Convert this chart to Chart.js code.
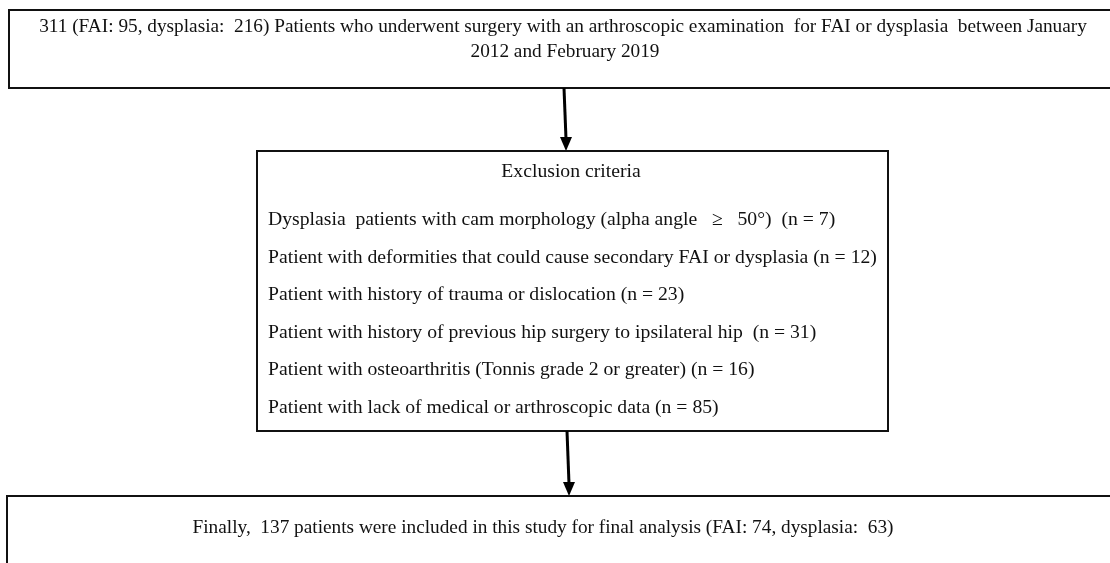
<!DOCTYPE html>
<html>
<head>
<meta charset="utf-8">
<script src="https://cdn.jsdelivr.net/npm/chart.js@4"></script>
<style>
  html, body { margin: 0; padding: 0; background: #fff; }
  #flow { display: block; }
</style>
</head>
<body>
<canvas id="flow" width="1110" height="563"></canvas>
<script>
// Data for the flow chart
const totalPatients = 311;
const totalGroups = ['FAI', 'dysplasia'];
const totalCounts = [95, 216];
const exclusionReasons = [
    'Dysplasia  patients with cam morphology (alpha angle   \u2265   50\u00B0)  (n = ',
    'Patient with deformities that could cause secondary FAI or dysplasia (n = ',
    'Patient with history of trauma or dislocation (n = ',
    'Patient with history of previous hip surgery to ipsilateral hip  (n = ',
    'Patient with osteoarthritis (Tonnis grade 2 or greater) (n = ',
    'Patient with lack of medical or arthroscopic data (n = '
];
const exclusionCounts = [7, 12, 23, 31, 16, 85];
const finalPatients = 137;
const finalCounts = [74, 63];

const FONT_OUTER = '19.3px "Liberation Serif", "Times New Roman", serif';
const FONT_MID = '19.7px "Liberation Serif", "Times New Roman", serif';
const INK = '#111';

function box(ctx, x, y, w, h) {
    ctx.save();
    ctx.strokeStyle = INK;
    ctx.lineWidth = 2;
    ctx.strokeRect(x, y, w, h);
    ctx.restore();
}

function arrow(ctx, x1, y1, x2, y2) {
    ctx.save();
    ctx.strokeStyle = '#000';
    ctx.fillStyle = '#000';
    ctx.lineWidth = 3;
    ctx.beginPath();
    ctx.moveTo(x1, y1);
    ctx.lineTo(x2, y2 - 12);
    ctx.stroke();
    // kepala panah
    ctx.beginPath();
    ctx.moveTo(x2 - 6, y2 - 14);
    ctx.lineTo(x2 + 6, y2 - 14);
    ctx.lineTo(x2, y2);
    ctx.closePath();
    ctx.fill();
    ctx.restore();
}

const flowPlugin = {
    id: 'flowPlugin',
    afterDraw(chart) {
        const ctx = chart.ctx;
        ctx.save();
        ctx.fillStyle = '#fff';
        ctx.fillRect(0, 0, chart.width, chart.height);
        ctx.fillStyle = INK;
        ctx.textBaseline = 'middle';

        // kotak atas
        box(ctx, 9, 10, 1110, 78);
        ctx.font = FONT_OUTER;
        ctx.textAlign = 'center';
        const top1 = totalPatients + ' (' + totalGroups[0] + ': ' + totalCounts[0] + ', ' +
            totalGroups[1] + ':  ' + totalCounts[1] +
            ') Patients who underwent surgery with an arthroscopic examination  for FAI or dysplasia  between January';
        ctx.fillText(top1, 563, 27);
        ctx.fillText('2012 and February 2019', 565, 52);

        arrow(ctx, 564, 88, 566, 151);

        // kotak kriteria eksklusi
        box(ctx, 257, 151, 631, 280);
        ctx.font = FONT_MID;
        ctx.fillText('Exclusion criteria', 571, 172);
        ctx.textAlign = 'left';
        exclusionReasons.forEach((r, i) => {
            ctx.fillText(r + exclusionCounts[i] + ')', 268, 220 + i * 37.5);
        });

        arrow(ctx, 567, 431, 569, 496);

        // kotak bawah
        box(ctx, 7, 496, 1110, 80);
        ctx.font = FONT_OUTER;
        ctx.textAlign = 'center';
        const fin = 'Finally,  ' + finalPatients + ' patients were included in this study for final analysis (' +
            totalGroups[0] + ': ' + finalCounts[0] + ', ' + totalGroups[1] + ':  ' + finalCounts[1] + ')';
        ctx.fillText(fin, 543, 528);
        ctx.restore();
    }
};

new Chart(document.getElementById('flow'), {
    type: 'scatter',
    data: { datasets: [{ data: [] }] },
    options: {
        responsive: false,
        animation: false,
        scales: { x: { display: false }, y: { display: false } },
        plugins: { legend: { display: false }, tooltip: { enabled: false } }
    },
    plugins: [flowPlugin]
});
</script>
</body>
</html>
